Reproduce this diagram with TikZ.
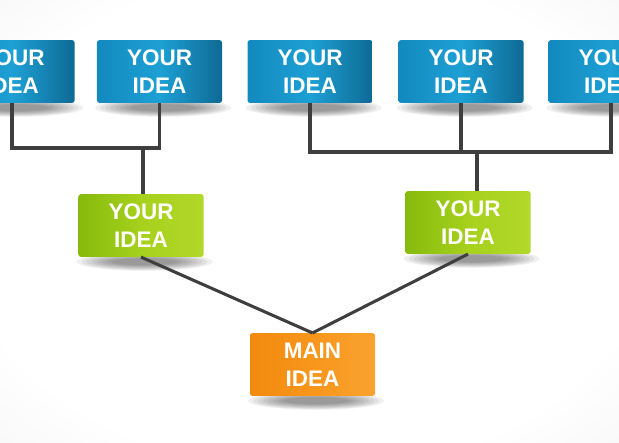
\documentclass[tikz,border=0pt]{standalone}
\usepackage{fontspec}
\setmainfont{Liberation Sans}
\usetikzlibrary{backgrounds}
\definecolor{blueL}{HTML}{1389BE}
\definecolor{blueM}{HTML}{1DA0D5}
\definecolor{blueR}{HTML}{0E6A94}
\definecolor{greenL}{HTML}{86BA0E}
\definecolor{greenM}{HTML}{A6D11C}
\definecolor{greenR}{HTML}{B2D82A}
\definecolor{orangeL}{HTML}{F28A0E}
\definecolor{orangeM}{HTML}{F8961C}
\definecolor{orangeR}{HTML}{F9A22E}
\definecolor{linkgray}{HTML}{3E3E3E}
\pgfdeclareradialshading{bgshade}{\pgfpointorigin}{color(0bp)=(white);
  color(28bp)=(white); color(71bp)=(black!14)}
\tikzset{
  ideabox/.style = {rectangle, rounded corners=2pt, inner sep=0pt,
    align=center, minimum width=3.75cm, minimum height=1.88cm, text=white,
    font=\fontsize{19.2}{23.9}\selectfont\bfseries},
  top_n/.style = {ideabox, left color=blueL, right color=blueR,
    middle color=blueM},% ligne du haut
  mid_n/.style = {ideabox, left color=greenL, right color=greenR,
    middle color=greenM},% ligne du milieu
  main_n/.style = {ideabox, left color=orangeL, right color=orangeR,
    middle color=orangeM},% idee principale
  link/.style = {draw=linkgray, line width=2.6pt},
  shadow_f/.style = {fill=black, fill opacity=0.06},
}

\begin{document}
\begin{tikzpicture}[x=0.03cm, y=-0.03cm]
\useasboundingbox (0,0) rectangle (619,442);

% boxes
\node [top_n] (t1) at (12,71.5) {YOUR\\IDEA};
\node [top_n] (t2) at (159.5,71.5) {YOUR\\IDEA};
\node [top_n] (t3) at (310,71.5) {YOUR\\IDEA};
\node [top_n] (t4) at (461,71.5) {YOUR\\IDEA};
\node [top_n] (t5) at (611,71.5) {YOUR\\IDEA};
\node [mid_n] (m1) at (141,225.5) {YOUR\\IDEA};
\node [mid_n] (m2) at (468,222.5) {YOUR\\IDEA};
\node [main_n] (main) at (312.5,364.5) {MAIN\\IDEA};

% junctions
\coordinate (j1) at (143,148);
\coordinate (j2) at (477,152);

% connectors
\draw [link] (t1.south) |- (j1) -| (t2.south);
\draw [link] (j1) -- (j1 |- m1.north);
\draw [link] (t3.south) |- (j2) -| (t5.south);
\draw [link] (t4.south) -- (t4.south |- j2);
\draw [link] (j2) -- (j2 |- m2.north);
\draw [link] (m1.south) -- (main.north);
\draw [link] (m2.south) -- (main.north);

\begin{scope}[on background layer]
\shade [shading=bgshade] (0,0) rectangle (619,442);
\foreach \n in {t1,t2,t3,t4,t5,m1,m2,main}
  \foreach \k in {0,...,7}
    \fill [shadow_f] ([xshift=3pt,yshift=-4pt]\n.south)
      ellipse [x radius={68-5*\k}, y radius={9-0.8*\k}];
\end{scope}
\end{tikzpicture}
\end{document}
